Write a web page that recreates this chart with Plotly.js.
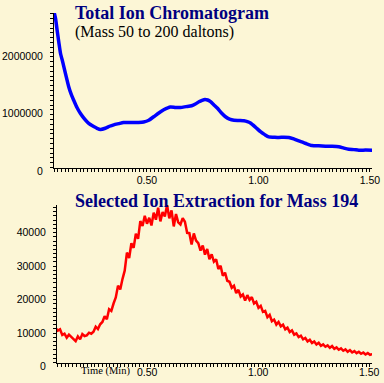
<!DOCTYPE html>
<html>
<head>
<meta charset="utf-8">
<script src="https://cdn.plot.ly/plotly-3.0.1.min.js"></script>
<style>
html,body{margin:0;padding:0;background:#FCF6D6;}
#chart{width:384px;height:383px;}
</style>
</head>
<body>
<div id="chart"></div>
<script>
// ---- Total Ion Chromatogram (Mass 50 to 200 daltons) ----
const ticTime = [0.083,0.090,0.097,0.105,0.112,0.120,0.127,0.138,0.149,0.160,0.171,0.186,0.201,0.216,0.232,0.246,0.261,0.276,0.291,0.313,0.332,0.351,0.373,0.395,0.418,0.440,0.462,0.485,0.508,0.530,0.553,0.575,0.605,0.628,0.650,0.675,0.700,0.717,0.733,0.747,0.760,0.772,0.785,0.800,0.815,0.833,0.852,0.870,0.890,0.912,0.935,0.950,0.964,0.986,1.009,1.028,1.046,1.068,1.091,1.114,1.136,1.158,1.181,1.210,1.240,1.270,1.300,1.330,1.360,1.383,1.405,1.428,1.450,1.480,1.510];
const ticIntensity = [2700000,2580000,2380000,2160000,1980000,1860000,1750000,1570000,1400000,1270000,1170000,1040000,940000,860000,790000,745000,710000,680000,660000,680000,715000,740000,760000,780000,780000,780000,782000,790000,820000,880000,945000,1000000,1050000,1040000,1040000,1055000,1070000,1100000,1140000,1165000,1180000,1170000,1140000,1085000,1030000,950000,880000,840000,820000,815000,810000,795000,770000,700000,620000,570000,530000,525000,520000,525000,520000,495000,460000,420000,380000,375000,370000,368000,360000,335000,315000,310000,300000,302000,300000];

// ---- Selected Ion Extraction for Mass 194 ----
const sieTime = [0.09,0.10,0.11,0.12,0.13,0.14,0.15,0.16,0.17,0.18,0.19,0.20,0.21,0.22,0.23,0.24,0.25,0.26,0.27,0.28,0.29,0.30,0.31,0.32,0.33,0.34,0.35,0.36,0.37,0.38,0.39,0.40,0.41,0.42,0.43,0.44,0.45,0.46,0.47,0.48,0.49,0.50,0.51,0.52,0.53,0.54,0.55,0.56,0.57,0.58,0.59,0.60,0.61,0.62,0.63,0.64,0.65,0.66,0.67,0.68,0.69,0.70,0.71,0.72,0.73,0.74,0.75,0.76,0.77,0.78,0.79,0.80,0.81,0.82,0.83,0.84,0.85,0.86,0.87,0.88,0.89,0.90,0.91,0.92,0.93,0.94,0.95,0.96,0.97,0.98,0.99,1.00,1.01,1.02,1.03,1.04,1.05,1.06,1.07,1.08,1.09,1.10,1.11,1.12,1.13,1.14,1.15,1.16,1.17,1.18,1.19,1.20,1.21,1.22,1.23,1.24,1.25,1.26,1.27,1.28,1.29,1.30,1.31,1.32,1.33,1.34,1.35,1.36,1.37,1.38,1.39,1.40,1.41,1.42,1.43,1.44,1.45,1.46,1.47,1.48,1.49,1.50,1.51];
const sieIntensity = [10300,9500,9900,8200,8600,7400,8300,7600,7200,6400,7800,6900,8500,7900,8100,8900,8600,9200,10700,10000,11400,12100,13800,12900,15900,15400,17600,19400,22900,21800,24900,27400,32800,31200,35600,34200,38400,36900,42200,40700,43800,41400,43200,40900,44700,42600,46200,42100,44900,43600,47000,43000,45400,40600,44300,41800,41200,43100,42000,38700,38600,35200,38500,36400,35600,33400,34900,32200,33900,30800,32300,30100,30800,27900,28900,25900,26800,24400,24100,22300,22900,20700,21700,19700,20300,18500,20100,18700,19500,17600,18100,16300,16900,15100,15400,13500,14200,12300,12800,11300,12100,10800,11300,9900,10400,9100,9600,8300,8700,7600,8000,6900,7300,6300,6800,5800,6300,5400,5900,5000,5400,4700,5100,4400,4900,4100,4500,3800,4200,3500,3900,3200,3700,3000,3400,2800,3200,2600,3000,2400,2800,2300,2500];

// ---- Tick labels ----
const timeLabelVals = [0.5,1.0,1.5];
const timeLabelText = ['0.50','1.00','1.50'];
const ticTickVals = [0,1000000,2000000];
const sieTickVals = [0,10000,20000,30000,40000];

const titleTop = 'Total Ion Chromatogram';
const subTitleTop = '(Mass 50 to 200 daltons)';
const titleBottom = 'Selected Ion Extraction for Mass 194';
const xLabel = 'Time (Min)';

const W = 384, H = 383;
const bg = '#FCF6D6';
const tickFont = {family:'Liberation Sans, Arial, sans-serif', size:10.5, color:'#000'};

// small tick marks: one per second on the time axis, labels only where given
function tickSet(step, lo, hi, labelVals, labelText){
  const vals = [], text = [];
  const n0 = Math.ceil(lo/step - 1e-9), n1 = Math.floor(hi/step + 1e-9);
  for (let i = n0; i <= n1; i++){
    const v = i*step;
    vals.push(v);
    let t = '';
    labelVals.forEach((lv, k) => { if (Math.abs(lv - v) < step/2) t = labelText[k]; });
    text.push(t);
  }
  return {vals, text};
}

function xAxis(domain, range, anchor, labels){
  const t = tickSet(1/60, range[0], range[1], labels ? timeLabelVals : [], timeLabelText);
  return {
    domain: domain, range: range, anchor: anchor,
    showline:true, linecolor:'#000', linewidth:1,
    showgrid:false, zeroline:false,
    tickmode:'array', tickvals:t.vals, ticktext:t.text,
    ticks:'outside', ticklen:3, tickcolor:'#000', tickwidth:1,
    tickfont:tickFont, ticklabelstandoff:0
  };
}
function yAxis(domain, range, anchor, vals, minorStep){
  const t = tickSet(minorStep, range[0], range[1], vals, vals.map(v=>String(v)));
  return {
    domain: domain, range: range, anchor: anchor,
    showline:true, linecolor:'#000', linewidth:1,
    showgrid:false, zeroline:false,
    tickmode:'array', tickvals:t.vals, ticktext:t.text,
    ticks:'outside', ticklen:3, tickcolor:'#000', tickwidth:1,
    tickfont:tickFont, ticklabelshift:4, ticklabelstandoff:5
  };
}

const traces = [
  {x:ticTime, y:ticIntensity, type:'scatter', mode:'lines', xaxis:'x', yaxis:'y',
   line:{color:'#0000FF', width:3.5, shape:'spline', smoothing:0.6}, hoverinfo:'skip'},
  {x:sieTime, y:sieIntensity, type:'scatter', mode:'lines', xaxis:'x2', yaxis:'y2',
   line:{color:'#FF0000', width:2.5}, hoverinfo:'skip'}
];

const serif = 'Liberation Serif, Times New Roman, serif';
const annotations = [
  {text:'<b>'+titleTop+'</b>', xref:'paper', yref:'paper', x:73/W, y:1-13/H, xanchor:'left', yanchor:'middle', showarrow:false,
   font:{family:serif, size:18, color:'#000080'}},
  {text:subTitleTop, xref:'paper', yref:'paper', x:73/W, y:1-32/H, xanchor:'left', yanchor:'middle', showarrow:false,
   font:{family:serif, size:16, color:'#000'}},
  {text:'<b>'+titleBottom+'</b>', xref:'paper', yref:'paper', x:73/W, y:1-201/H, xanchor:'left', yanchor:'middle', showarrow:false,
   font:{family:serif, size:18, color:'#000080'}},
  {text:xLabel, xref:'paper', yref:'paper', x:105/W, y:1-371/H, xanchor:'center', yanchor:'middle', showarrow:false,
   font:{family:serif, size:10.5, color:'#000'}}
];
// bottom time-axis labels, placed through the x2 axis
timeLabelVals.forEach((v, k) => annotations.push({
  text:timeLabelText[k], xref:'x2', yref:'paper', x:v, y:1-372/H, xanchor:'center', yanchor:'middle',
  showarrow:false, font:tickFont
}));

const layout = {
  width:W, height:H,
  margin:{l:0,r:0,t:0,b:0},
  paper_bgcolor:bg, plot_bgcolor:bg,
  showlegend:false,
  xaxis: xAxis([54/W, 372/W], [0.083, 1.509], 'y', true),
  yaxis: yAxis([1-167.5/H, 1-13/H], [0, 2678000], 'x', ticTickVals, 1000000/12),
  xaxis2: xAxis([57/W, 372/W], [0.0964, 1.509], 'y2', false),
  yaxis2: yAxis([1-362.5/H, 1-205/H], [0, 47000], 'x2', sieTickVals, 1250),
  annotations: annotations
};

Plotly.newPlot('chart', traces, layout, {staticPlot:true, displayModeBar:false});
</script>
</body>
</html>
